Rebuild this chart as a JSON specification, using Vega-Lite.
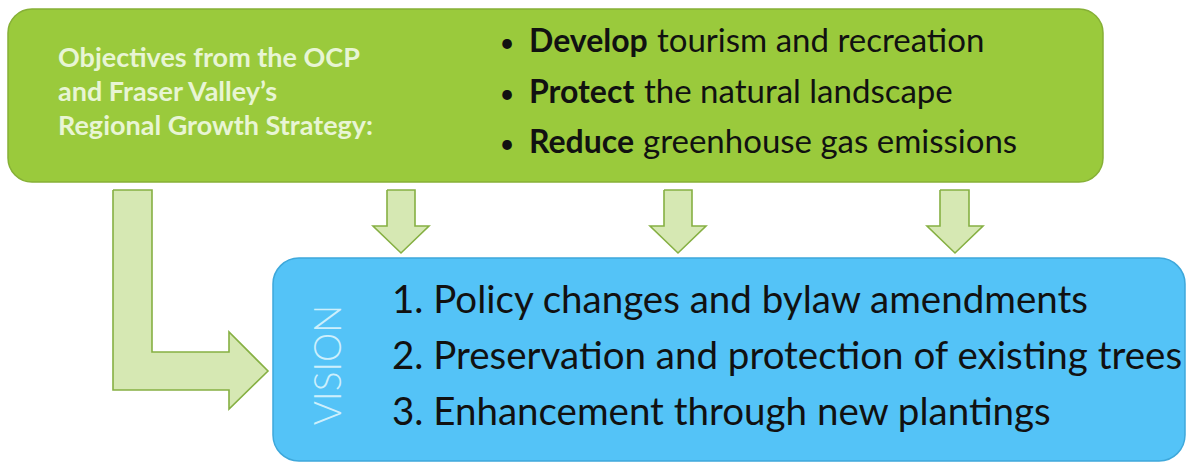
{
  "$schema": "https://vega.github.io/schema/vega-lite/v6.json",
  "width": 1186,
  "height": 462,
  "autosize": "none",
  "padding": 0,
  "background": "white",
  "config": {"view": {"stroke": null}, "axis": {"disable": true}},
  "datasets": {
    "panels": [
      {"panel": "objectives", "x": 8, "x2": 1103, "y": 9, "y2": 182},
      {"panel": "vision", "x": 273, "x2": 1185, "y": 258, "y2": 461}
    ],
    "shafts": [
      {"arrow": "A", "x": 113, "x2": 152, "y": 190, "y2": 390},
      {"arrow": "A", "x": 113, "x2": 230, "y": 352, "y2": 390},
      {"arrow": "B", "x": 387, "x2": 415, "y": 190, "y2": 227},
      {"arrow": "C", "x": 664, "x2": 692, "y": 190, "y2": 227},
      {"arrow": "D", "x": 940, "x2": 969, "y": 190, "y2": 227}
    ],
    "downHeads": [
      {"arrow": "B", "x": 373, "y": 226, "y2": 226},
      {"arrow": "B", "x": 401, "y": 226, "y2": 253},
      {"arrow": "B", "x": 429, "y": 226, "y2": 226},
      {"arrow": "C", "x": 650, "y": 226, "y2": 226},
      {"arrow": "C", "x": 678, "y": 226, "y2": 253},
      {"arrow": "C", "x": 706, "y": 226, "y2": 226},
      {"arrow": "D", "x": 927, "y": 226, "y2": 226},
      {"arrow": "D", "x": 955, "y": 226, "y2": 253},
      {"arrow": "D", "x": 983, "y": 226, "y2": 226}
    ],
    "rightHead": [
      {"arrow": "A", "y": 332, "x": 229, "x2": 229},
      {"arrow": "A", "y": 371, "x": 229, "x2": 268},
      {"arrow": "A", "y": 409, "x": 229, "x2": 229}
    ],
    "outlines": [
      {"arrow": "A", "seq": 1, "x": 113, "y": 190},
      {"arrow": "A", "seq": 2, "x": 152, "y": 190},
      {"arrow": "A", "seq": 3, "x": 152, "y": 352},
      {"arrow": "A", "seq": 4, "x": 229, "y": 352},
      {"arrow": "A", "seq": 5, "x": 229, "y": 332},
      {"arrow": "A", "seq": 6, "x": 268, "y": 371},
      {"arrow": "A", "seq": 7, "x": 229, "y": 409},
      {"arrow": "A", "seq": 8, "x": 229, "y": 390},
      {"arrow": "A", "seq": 9, "x": 113, "y": 390},
      {"arrow": "A", "seq": 10, "x": 113, "y": 190},
      {"arrow": "B", "seq": 1, "x": 387, "y": 190},
      {"arrow": "B", "seq": 2, "x": 415, "y": 190},
      {"arrow": "B", "seq": 3, "x": 415, "y": 226},
      {"arrow": "B", "seq": 4, "x": 429, "y": 226},
      {"arrow": "B", "seq": 5, "x": 401, "y": 253},
      {"arrow": "B", "seq": 6, "x": 373, "y": 226},
      {"arrow": "B", "seq": 7, "x": 387, "y": 226},
      {"arrow": "B", "seq": 8, "x": 387, "y": 190},
      {"arrow": "C", "seq": 1, "x": 664, "y": 190},
      {"arrow": "C", "seq": 2, "x": 692, "y": 190},
      {"arrow": "C", "seq": 3, "x": 692, "y": 226},
      {"arrow": "C", "seq": 4, "x": 706, "y": 226},
      {"arrow": "C", "seq": 5, "x": 678, "y": 253},
      {"arrow": "C", "seq": 6, "x": 650, "y": 226},
      {"arrow": "C", "seq": 7, "x": 664, "y": 226},
      {"arrow": "C", "seq": 8, "x": 664, "y": 190},
      {"arrow": "D", "seq": 1, "x": 940, "y": 190},
      {"arrow": "D", "seq": 2, "x": 969, "y": 190},
      {"arrow": "D", "seq": 3, "x": 969, "y": 226},
      {"arrow": "D", "seq": 4, "x": 983, "y": 226},
      {"arrow": "D", "seq": 5, "x": 955, "y": 253},
      {"arrow": "D", "seq": 6, "x": 927, "y": 226},
      {"arrow": "D", "seq": 7, "x": 940, "y": 226},
      {"arrow": "D", "seq": 8, "x": 940, "y": 190}
    ],
    "leftText": [
      {"text": "Objectives from the OCP", "x": 58, "y": 67},
      {"text": "and Fraser Valley’s", "x": 58, "y": 101},
      {"text": "Regional Growth Strategy:", "x": 58, "y": 135}
    ],
    "bullets": [
      {"text": "•", "x": 507, "y": 52},
      {"text": "•", "x": 507, "y": 103},
      {"text": "•", "x": 507, "y": 153}
    ],
    "bulletText": [
      {"emphasis": "bold", "text": "Develop", "x": 529, "y": 52},
      {"emphasis": "regular", "text": "tourism and recreation", "x": 657, "y": 52},
      {"emphasis": "bold", "text": "Protect", "x": 529, "y": 103},
      {"emphasis": "regular", "text": "the natural landscape", "x": 644, "y": 103},
      {"emphasis": "bold", "text": "Reduce", "x": 529, "y": 153},
      {"emphasis": "regular", "text": "greenhouse gas emissions", "x": 643, "y": 153}
    ],
    "list": [
      {"text": "1. Policy changes and bylaw amendments", "x": 392, "y": 313},
      {"text": "2. Preservation and protection of existing trees", "x": 392, "y": 369},
      {"text": "3. Enhancement through new plantings", "x": 392, "y": 425}
    ],
    "vision": [
      {"text": "VISION", "x": 330, "y": 365}
    ]
  },
  "layer": [
    {
      "data": {"name": "panels"},
      "transform": [{"filter": "datum.panel === 'objectives'"}],
      "mark": {"type": "rect", "fill": "#9aca3c", "stroke": "#86b036", "strokeWidth": 1.5, "cornerRadius": 24},
      "encoding": {
        "x": {"field": "x", "type": "quantitative", "scale": {"domain": [0, 1186], "nice": false, "zero": false}, "axis": null},
        "x2": {"field": "x2"},
        "y": {"field": "y", "type": "quantitative", "scale": {"domain": [0, 462], "nice": false, "zero": false, "reverse": true}, "axis": null},
        "y2": {"field": "y2"}
      }
    },
    {
      "data": {"name": "panels"},
      "transform": [{"filter": "datum.panel === 'vision'"}],
      "mark": {"type": "rect", "fill": "#54c3f7", "stroke": "#3ea8db", "strokeWidth": 1.5, "cornerRadius": 26},
      "encoding": {
        "x": {"field": "x", "type": "quantitative", "scale": {"domain": [0, 1186], "nice": false, "zero": false}, "axis": null},
        "x2": {"field": "x2"},
        "y": {"field": "y", "type": "quantitative", "scale": {"domain": [0, 462], "nice": false, "zero": false, "reverse": true}, "axis": null},
        "y2": {"field": "y2"}
      }
    },
    {
      "data": {"name": "shafts"},
      "mark": {"type": "rect", "fill": "#d6e8b3", "strokeWidth": 0},
      "encoding": {
        "x": {"field": "x", "type": "quantitative", "scale": {"domain": [0, 1186], "nice": false, "zero": false}, "axis": null},
        "x2": {"field": "x2"},
        "y": {"field": "y", "type": "quantitative", "scale": {"domain": [0, 462], "nice": false, "zero": false, "reverse": true}, "axis": null},
        "y2": {"field": "y2"}
      }
    },
    {
      "data": {"name": "downHeads"},
      "mark": {"type": "area", "fill": "#d6e8b3", "opacity": 1, "orient": "vertical"},
      "encoding": {
        "x": {"field": "x", "type": "quantitative", "scale": {"domain": [0, 1186], "nice": false, "zero": false}, "axis": null},
        "y": {"field": "y", "type": "quantitative", "scale": {"domain": [0, 462], "nice": false, "zero": false, "reverse": true}, "axis": null},
        "y2": {"field": "y2"},
        "detail": {"field": "arrow"}
      }
    },
    {
      "data": {"name": "rightHead"},
      "mark": {"type": "area", "fill": "#d6e8b3", "opacity": 1, "orient": "horizontal"},
      "encoding": {
        "y": {"field": "y", "type": "quantitative", "scale": {"domain": [0, 462], "nice": false, "zero": false, "reverse": true}, "axis": null},
        "x": {"field": "x", "type": "quantitative", "scale": {"domain": [0, 1186], "nice": false, "zero": false}, "axis": null},
        "x2": {"field": "x2"},
        "detail": {"field": "arrow"}
      }
    },
    {
      "data": {"name": "outlines"},
      "mark": {"type": "line", "stroke": "#86b043", "strokeWidth": 1.6, "strokeJoin": "miter"},
      "encoding": {
        "x": {"field": "x", "type": "quantitative", "scale": {"domain": [0, 1186], "nice": false, "zero": false}, "axis": null},
        "y": {"field": "y", "type": "quantitative", "scale": {"domain": [0, 462], "nice": false, "zero": false, "reverse": true}, "axis": null},
        "order": {"field": "seq", "type": "quantitative"},
        "detail": {"field": "arrow"}
      }
    },
    {
      "data": {"name": "leftText"},
      "mark": {"type": "text", "font": "Lato", "fontWeight": "bold", "fontSize": 27, "fill": "#e8f5d4", "align": "left", "baseline": "alphabetic"},
      "encoding": {
        "x": {"field": "x", "type": "quantitative", "scale": {"domain": [0, 1186], "nice": false, "zero": false}, "axis": null},
        "y": {"field": "y", "type": "quantitative", "scale": {"domain": [0, 462], "nice": false, "zero": false, "reverse": true}, "axis": null},
        "text": {"field": "text"}
      }
    },
    {
      "data": {"name": "bullets"},
      "mark": {"type": "text", "font": "Lato", "fontSize": 26, "fill": "#111111", "align": "center", "baseline": "alphabetic"},
      "encoding": {
        "x": {"field": "x", "type": "quantitative", "scale": {"domain": [0, 1186], "nice": false, "zero": false}, "axis": null},
        "y": {"field": "y", "type": "quantitative", "scale": {"domain": [0, 462], "nice": false, "zero": false, "reverse": true}, "axis": null},
        "text": {"field": "text"}
      }
    },
    {
      "data": {"name": "bulletText"},
      "transform": [{"filter": "datum.emphasis === 'bold'"}],
      "mark": {"type": "text", "font": "Lato", "fontWeight": "bold", "fontSize": 32, "fill": "#111111", "align": "left", "baseline": "alphabetic"},
      "encoding": {
        "x": {"field": "x", "type": "quantitative", "scale": {"domain": [0, 1186], "nice": false, "zero": false}, "axis": null},
        "y": {"field": "y", "type": "quantitative", "scale": {"domain": [0, 462], "nice": false, "zero": false, "reverse": true}, "axis": null},
        "text": {"field": "text"}
      }
    },
    {
      "data": {"name": "bulletText"},
      "transform": [{"filter": "datum.emphasis === 'regular'"}],
      "mark": {"type": "text", "font": "Lato", "fontSize": 33, "fill": "#111111", "align": "left", "baseline": "alphabetic"},
      "encoding": {
        "x": {"field": "x", "type": "quantitative", "scale": {"domain": [0, 1186], "nice": false, "zero": false}, "axis": null},
        "y": {"field": "y", "type": "quantitative", "scale": {"domain": [0, 462], "nice": false, "zero": false, "reverse": true}, "axis": null},
        "text": {"field": "text"}
      }
    },
    {
      "data": {"name": "list"},
      "mark": {"type": "text", "font": "Lato", "fontSize": 38.5, "fill": "#111111", "align": "left", "baseline": "alphabetic"},
      "encoding": {
        "x": {"field": "x", "type": "quantitative", "scale": {"domain": [0, 1186], "nice": false, "zero": false}, "axis": null},
        "y": {"field": "y", "type": "quantitative", "scale": {"domain": [0, 462], "nice": false, "zero": false, "reverse": true}, "axis": null},
        "text": {"field": "text"}
      }
    },
    {
      "data": {"name": "vision"},
      "mark": {"type": "text", "font": "Lato", "fontWeight": 300, "fontSize": 37, "fill": "#cdeffc", "align": "center", "baseline": "middle", "angle": 270},
      "encoding": {
        "x": {"field": "x", "type": "quantitative", "scale": {"domain": [0, 1186], "nice": false, "zero": false}, "axis": null},
        "y": {"field": "y", "type": "quantitative", "scale": {"domain": [0, 462], "nice": false, "zero": false, "reverse": true}, "axis": null},
        "text": {"field": "text"}
      }
    }
  ]
}
